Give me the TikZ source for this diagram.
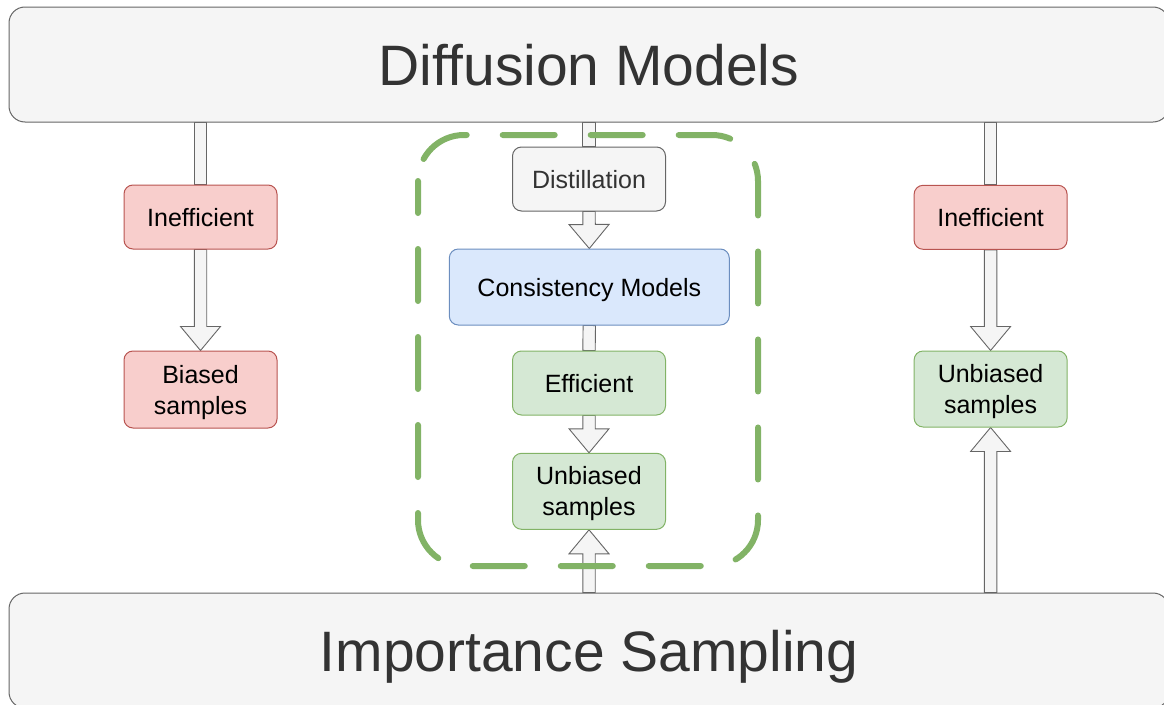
\documentclass[tikz,border=0pt]{standalone}
\usepackage{fontspec}
\setmainfont{Liberation Sans}
\usetikzlibrary{calc,backgrounds}

\definecolor{greyfill}{HTML}{F5F5F5}
\definecolor{greyline}{HTML}{666666}
\definecolor{darktext}{HTML}{333333}
\definecolor{redfill}{HTML}{F8CECC}
\definecolor{redline}{HTML}{B85450}
\definecolor{greenfill}{HTML}{D5E8D4}
\definecolor{greenline}{HTML}{82B366}
\definecolor{bluefill}{HTML}{DAE8FC}
\definecolor{blueline}{HTML}{6C8EBF}

\tikzset{
  bigbox/.style={draw=greyline, fill=greyfill, line width=1pt, rounded corners=16pt,
    minimum width=1160pt, minimum height=115pt, inner sep=0pt, text=darktext,
    text depth=0pt, font=\fontsize{57}{68}\selectfont},
  smallbox/.style={line width=1pt, rounded corners=9pt, minimum width=153pt,
    minimum height=64pt, inner sep=0pt, align=center, text depth=0pt,
    font=\fontsize{25}{31}\selectfont},
  redbox/.style={smallbox, draw=redline, fill=redfill},
  greenbox/.style={smallbox, draw=greenline, fill=greenfill},
  bluebox/.style={smallbox, draw=blueline, fill=bluefill},
  greybox/.style={smallbox, draw=greyline, fill=greyfill, text=darktext},
  flexbody/.style={draw=greyline, fill=greyfill, line width=0.9pt, line join=miter},
  groupframe/.style={draw=greenline, line width=6pt, line cap=round,
    rounded corners=46pt, dash pattern=on 52pt off 36pt, dash phase=20pt},
}

% block arrow with a head at its second end
\newcommand\flexarrow[2]{%
  \coordinate (fah) at ($(#2)!24pt!(#1)$);
  \draw[flexbody] ($(#1)!6.2pt!90:(#2)$) -- ($(fah)!6.2pt!90:(#2)$)
    -- ($(fah)!20pt!90:(#2)$) -- (#2) -- ($(fah)!20pt!-90:(#2)$)
    -- ($(fah)!6.2pt!-90:(#2)$) -- ($(#1)!6.2pt!-90:(#2)$) -- cycle;}
% block arrow body only, without a head
\newcommand\flexshaft[2]{%
  \draw[flexbody] ($(#1)!6.2pt!90:(#2)$) -- ($(#2)!6.2pt!-90:(#1)$)
    -- ($(#2)!6.2pt!90:(#1)$) -- ($(#1)!6.2pt!-90:(#2)$) -- cycle;}

\begin{document}
\begin{tikzpicture}[x=1pt, y=-1pt]
\useasboundingbox (0,0) rectangle (1164,704);

% bands
\node[bigbox] (top) at (589,64.5) {Diffusion Models};
\node[bigbox] (bottom) at (589,650.5) {Importance Sampling};

% left column
\node[redbox] (ineffL) at (200.5,217) {Inefficient};
\node[redbox, minimum height=77pt] (biasL) at (200.5,389.5) {Biased\\samples};

% middle column
\node[greybox] (distill) at (589,179) {Distillation};
\node[bluebox, minimum width=280pt, minimum height=76pt] (cons) at (589.3,287) {Consistency Models};
\node[greenbox] (eff) at (589,383) {Efficient};
\node[greenbox, minimum height=76pt] (unbC) at (589,491.3) {Unbiased\\samples};

% right column
\node[redbox] (ineffR) at (990.6,217.3) {Inefficient};
\node[greenbox, minimum height=76pt] (unbR) at (990.6,389) {Unbiased\\samples};

\begin{pgfonlayer}{background}
  \coordinate (sL) at (ineffL.north |- top.south);
  \coordinate (sC) at (distill.north |- top.south);
  \coordinate (sR) at (ineffR.north |- top.south);
  \coordinate (bC) at (unbC.south |- bottom.north);
  \coordinate (bR) at (unbR.south |- bottom.north);
  \flexshaft{sL}{ineffL.north}
  \flexarrow{ineffL.south}{biasL.north}
  \flexshaft{sC}{distill.north}
  \flexarrow{distill.south}{cons.north}
  \flexshaft{cons.south}{eff.north}
  \flexarrow{eff.south}{unbC.north}
  \flexarrow{bC}{unbC.south}
  \flexshaft{sR}{ineffR.north}
  \flexarrow{ineffR.south}{unbR.north}
  \flexarrow{bR}{unbR.south}
\end{pgfonlayer}

% dashed frame around the distillation branch
\coordinate (frameNW) at (418,135);
\coordinate (frameSE) at (758,566);
\draw[groupframe] (frameNW) rectangle (frameSE);
\end{tikzpicture}
\end{document}
